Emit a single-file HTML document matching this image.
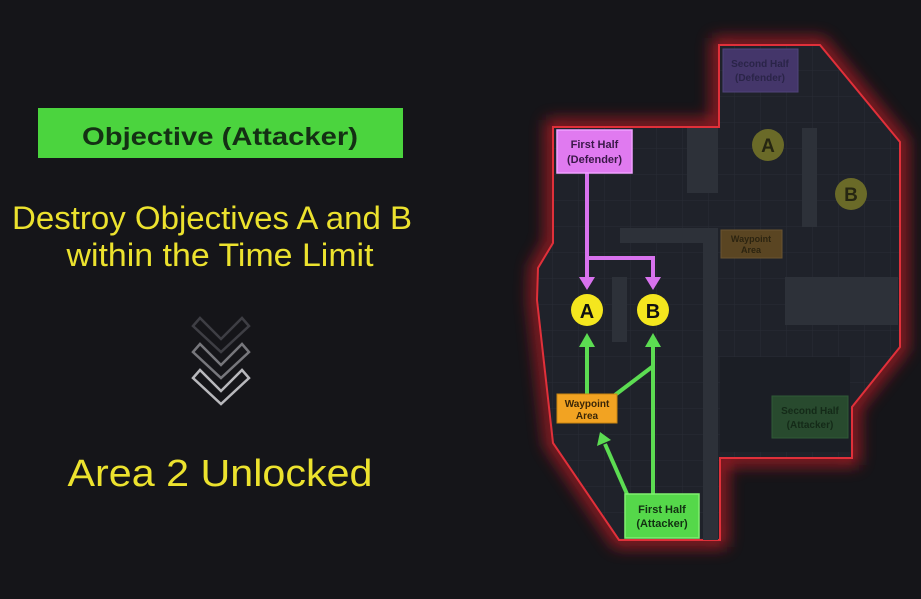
<!DOCTYPE html>
<html><head><meta charset="utf-8"><style>
html,body{margin:0;padding:0;background:#151519;}
svg{display:block}
text{font-family:"Liberation Sans",sans-serif}
</style></head><body>
<svg width="921" height="599" viewBox="0 0 921 599" xmlns="http://www.w3.org/2000/svg">
<defs>
<pattern id="g" width="26" height="26" patternUnits="userSpaceOnUse" x="553" y="45">
<rect width="26" height="26" fill="#1f222a"/>
<path d="M26 0V26H0" fill="none" stroke="#282c35" stroke-width="1"/>
</pattern>
<filter id="glow" x="-20%" y="-20%" width="140%" height="140%"><feGaussianBlur stdDeviation="8"/></filter>
</defs>
<rect width="921" height="599" fill="#151519"/>
<!-- left -->
<rect x="38" y="108" width="365" height="50" fill="#4bd43e"/>
<text x="220" y="145" font-size="25" font-weight="bold" fill="#143014" text-anchor="middle" textLength="276" lengthAdjust="spacingAndGlyphs">Objective (Attacker)</text>
<text x="212" y="229" font-size="32" fill="#ece22e" text-anchor="middle" textLength="400" lengthAdjust="spacingAndGlyphs">Destroy Objectives A and B</text>
<text x="220" y="266" font-size="32" fill="#ece22e" text-anchor="middle" textLength="307" lengthAdjust="spacingAndGlyphs">within the Time Limit</text>
<g fill="none" stroke-width="2.5">
<path d="M193 326 L200 318 L221 339 L242 318 L249 326 L221 352 Z" stroke="#3e3e44"/>
<path d="M193 352 L200 344 L221 365 L242 344 L249 352 L221 378 Z" stroke="#77777c"/>
<path d="M193 378 L200 370 L221 391 L242 370 L249 378 L221 404 Z" stroke="#b8b8bc"/>
</g>
<text x="220" y="486" font-size="38" fill="#ece22e" text-anchor="middle" textLength="305" lengthAdjust="spacingAndGlyphs">Area 2 Unlocked</text>
<!-- map -->
<path d="M719 45 L820 45 L900 142 L900 347 L852 407 L852 458 L720 458 L720 540 L619 540 L553 443 L537 300 L538 268 L553 243 L553 127 L719 127 Z" fill="none" stroke="#c81c26" stroke-width="14" filter="url(#glow)" opacity="0.8"/>
<path d="M719 45 L820 45 L900 142 L900 347 L852 407 L852 458 L720 458 L720 540 L619 540 L553 443 L537 300 L538 268 L553 243 L553 127 L719 127 Z" fill="url(#g)" stroke="#e0303a" stroke-width="2"/>
<g fill="#2d3139">
<rect x="687" y="128" width="31" height="65"/>
<rect x="802" y="128" width="15" height="99"/>
<rect x="620" y="228" width="98" height="15"/>
<rect x="703" y="243" width="15" height="297"/>
<rect x="612" y="277" width="15" height="65"/>
<rect x="785" y="277" width="113" height="48"/>
</g>
<rect x="720" y="357" width="130" height="95" fill="#1b1e25"/>
<!-- dim boxes -->
<rect x="723" y="49" width="75" height="43" fill="#44366a" stroke="#51447a"/>
<text x="760" y="67" font-size="10" font-weight="bold" fill="#2a2448" text-anchor="middle">Second Half</text>
<text x="760" y="81" font-size="10" font-weight="bold" fill="#2a2448" text-anchor="middle">(Defender)</text>
<rect x="721" y="230" width="61" height="28" fill="#5a4522" stroke="#6a5430"/>
<text x="751" y="242" font-size="9" font-weight="bold" fill="#2c2410" text-anchor="middle">Waypoint</text>
<text x="751" y="253" font-size="9" font-weight="bold" fill="#2c2410" text-anchor="middle">Area</text>
<rect x="772" y="396" width="76" height="42" fill="#284a2e" stroke="#2f5a36"/>
<text x="810" y="414" font-size="10" font-weight="bold" fill="#142a18" text-anchor="middle">Second Half</text>
<text x="810" y="428" font-size="10" font-weight="bold" fill="#142a18" text-anchor="middle">(Attacker)</text>
<circle cx="768" cy="145" r="16" fill="#6a6a28"/>
<text x="768" y="152" font-size="19" font-weight="bold" fill="#262612" text-anchor="middle">A</text>
<circle cx="851" cy="194" r="16" fill="#6a6a28"/>
<text x="851" y="201" font-size="19" font-weight="bold" fill="#262612" text-anchor="middle">B</text>
<!-- purple -->
<g stroke="#d872ee" stroke-width="4" fill="none">
<path d="M587 173 V280"/><path d="M585 258 H653 V280"/>
</g>
<path d="M579 277 L595 277 L587 290 Z M645 277 L661 277 L653 290 Z" fill="#d872ee"/>
<rect x="557" y="130" width="75" height="43" fill="#e07af0" stroke="#f0a0ff" stroke-width="1.5"/>
<text x="594.5" y="148" font-size="11" font-weight="bold" fill="#3a1848" text-anchor="middle">First Half</text>
<text x="594.5" y="163" font-size="11" font-weight="bold" fill="#3a1848" text-anchor="middle">(Defender)</text>
<!-- A B -->
<circle cx="587" cy="310" r="16" fill="#f4e61e"/>
<text x="587" y="318" font-size="20" font-weight="bold" fill="#111" text-anchor="middle">A</text>
<circle cx="653" cy="310" r="16" fill="#f4e61e"/>
<text x="653" y="318" font-size="20" font-weight="bold" fill="#111" text-anchor="middle">B</text>
<!-- green -->
<g stroke="#5cdc52" stroke-width="4" fill="none">
<path d="M587 394 V340"/><path d="M653 494 V340"/>
<path d="M615 395 L652 367"/><path d="M627 494 L605 444"/>
</g>
<path d="M579 347 L595 347 L587 333 Z M645 347 L661 347 L653 333 Z M597 446 L611 440 L600 432 Z" fill="#5cdc52"/>
<rect x="557" y="394" width="60" height="29" fill="#f2a322" stroke="#c98510"/>
<text x="587" y="407" font-size="10" font-weight="bold" fill="#3a2608" text-anchor="middle">Waypoint</text>
<text x="587" y="419" font-size="10" font-weight="bold" fill="#3a2608" text-anchor="middle">Area</text>
<rect x="625" y="494" width="74" height="44" fill="#55d84a" stroke="#80f070" stroke-width="1.5"/>
<text x="662" y="513" font-size="11" font-weight="bold" fill="#123012" text-anchor="middle">First Half</text>
<text x="662" y="527" font-size="11" font-weight="bold" fill="#123012" text-anchor="middle">(Attacker)</text>
</svg>
</body></html>
